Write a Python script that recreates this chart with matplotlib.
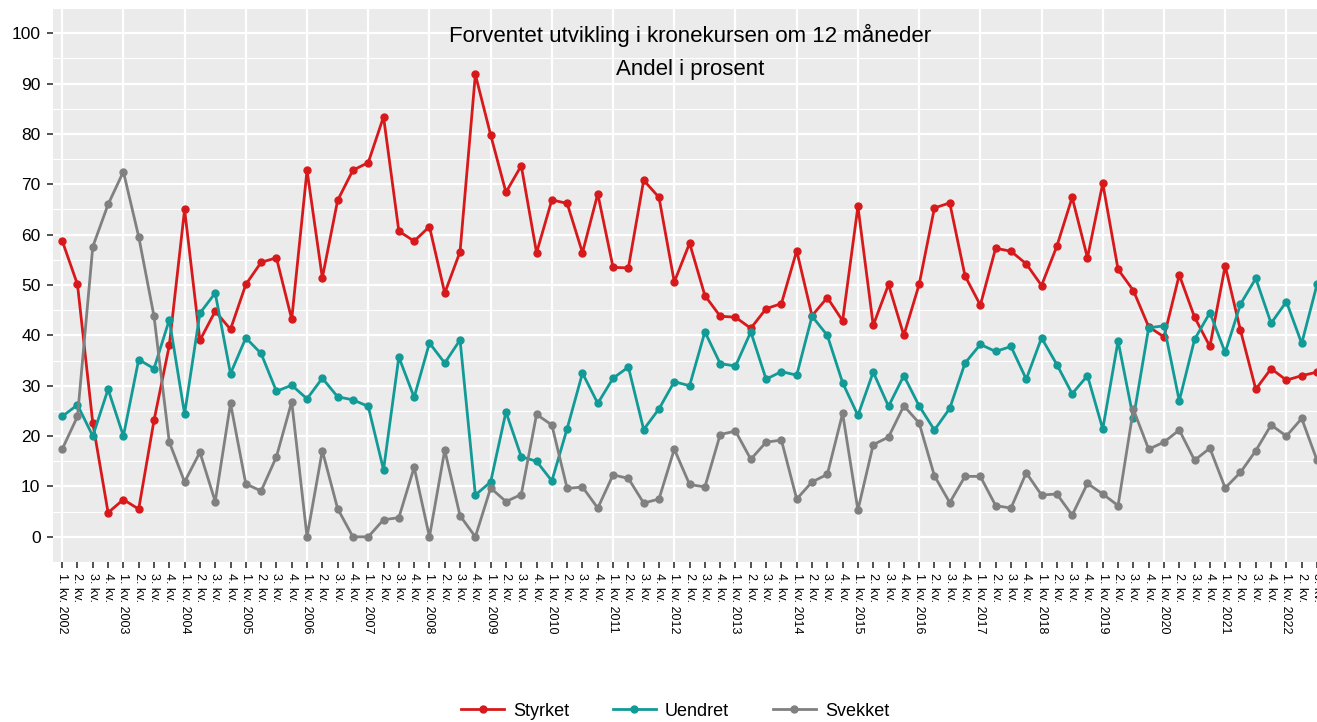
"""Forventet utvikling i kronekursen om 12 maneder, andel i prosent."""

import matplotlib

matplotlib.use("Agg")
import matplotlib.pyplot as plt
from matplotlib.ticker import MultipleLocator

START_YEAR = 2002

styrket = [
    58.8, 50.1, 22.6, 4.8, 7.4, 5.5, 23.1, 38.0, 65.0, 39.0, 44.8, 41.2,
    50.1, 54.5, 55.4, 43.2, 72.8, 51.4, 66.8, 72.8, 74.3, 83.4, 60.7, 58.7,
    61.6, 48.4, 56.6, 91.8, 79.8, 68.4, 73.7, 56.4, 66.9, 66.2, 56.4, 68.1,
    53.5, 53.4, 70.8, 67.4, 50.6, 58.3, 47.9, 43.8, 43.6, 41.4, 45.3, 46.3,
    56.8, 43.9, 47.5, 42.9, 65.6, 42.0, 50.1, 40.0, 50.1, 65.3, 66.3, 51.8,
    46.0, 57.3, 56.7, 54.2, 49.9, 57.7, 67.4, 55.4, 70.2, 53.1, 48.9, 41.7,
    39.7, 52.0, 43.6, 37.8, 53.8, 41.0, 29.3, 33.4, 31.1, 32.0, 32.7,
]
uendret = [
    23.9, 26.2, 20.0, 29.3, 20.0, 35.2, 33.4, 43.1, 24.4, 44.4, 48.4, 32.4,
    39.5, 36.4, 28.9, 30.1, 27.4, 31.5, 27.8, 27.2, 25.9, 13.3, 35.7, 27.7,
    38.5, 34.5, 39.1, 8.3, 10.9, 24.8, 15.9, 15.0, 11.1, 21.5, 32.5, 26.5,
    31.5, 33.7, 21.3, 25.4, 30.8, 30.0, 40.7, 34.4, 33.9, 40.7, 31.3, 32.8,
    32.1, 43.8, 40.0, 30.6, 24.1, 32.7, 25.9, 32.0, 26.0, 21.2, 25.5, 34.5,
    38.2, 36.8, 37.8, 31.3, 39.5, 34.2, 28.4, 32.0, 21.4, 38.9, 23.5, 41.5,
    41.9, 27.0, 39.2, 44.5, 36.6, 46.2, 51.3, 42.4, 46.7, 38.4, 50.1,
]
svekket = [
    17.4, 23.9, 57.6, 66.0, 72.5, 59.6, 43.8, 18.8, 10.9, 16.8, 7.0, 26.5,
    10.5, 9.1, 15.9, 26.8, 0.0, 17.1, 5.6, 0.0, 0.0, 3.4, 3.8, 13.8,
    0.0, 17.2, 4.2, 0.0, 9.7, 7.0, 8.4, 24.3, 22.2, 9.6, 9.9, 5.7,
    12.3, 11.6, 6.7, 7.5, 17.4, 10.4, 9.9, 20.3, 21.0, 15.4, 18.8, 19.2,
    7.5, 10.9, 12.4, 24.5, 5.3, 18.3, 19.8, 26.0, 22.6, 12.1, 6.8, 12.0,
    12.0, 6.2, 5.7, 12.7, 8.3, 8.5, 4.3, 10.6, 8.5, 6.2, 25.3, 17.4,
    18.8, 21.2, 15.2, 17.6, 9.7, 12.8, 17.1, 22.2, 20.0, 23.5, 15.2,
]

series = [
    ("Styrket", styrket, "#D7191C"),
    ("Uendret", uendret, "#119A96"),
    ("Svekket", svekket, "#808080"),
]


def quarter_labels(n):
    labels = []
    for i in range(n):
        q = i % 4 + 1
        if q == 1:
            labels.append(f"{q}. kv. {START_YEAR + i // 4}")
        else:
            labels.append(f"{q}. kv.")
    return labels


def main() -> None:
    plt.rcParams["font.family"] = ["Liberation Sans", "DejaVu Sans"]
    n = len(styrket)
    x = list(range(n))

    fig = plt.figure(figsize=(13.17, 7.22), dpi=100)
    ax = fig.add_axes([53 / 1317, 1 - 562 / 722, 1 - 53 / 1317, (562 - 8) / 722])
    ax.set_facecolor("#EBEBEB")
    for side in ax.spines.values():
        side.set_visible(False)

    ax.set_ylim(-5, 105)
    ax.set_xlim(-0.6, 81.96)
    ax.yaxis.set_major_locator(MultipleLocator(10))
    ax.yaxis.set_minor_locator(MultipleLocator(5))
    ax.set_xticks(x)
    ax.set_xticklabels(quarter_labels(n), rotation=-90, fontsize=9,
                       va="top", ha="center")

    ax.grid(axis="y", which="major", color="white", linewidth=1.6)
    ax.grid(axis="y", which="minor", color="white", linewidth=0.8)
    for i in x:
        if i % 4 == 0:
            ax.axvline(i, color="white", linewidth=1.6, zorder=0.5)
    ax.set_axisbelow(True)

    ax.tick_params(axis="y", which="major", length=4, width=1.2,
                   color="#333333", labelsize=12.5, labelcolor="black", pad=5)
    ax.tick_params(axis="y", which="minor", length=0)
    ax.tick_params(axis="x", length=4, width=1.2, color="#333333",
                   labelcolor="black", pad=4)

    for name, values, color in series:
        ax.plot(x, values, color=color, linewidth=2.0, marker="o",
                markersize=5, label=name, clip_on=False, zorder=3)

    fig.text(690 / 1317, 1 - 35 / 722, "Forventet utvikling i kronekursen om 12 måneder",
             ha="center", va="center", fontsize=16)
    fig.text(690 / 1317, 1 - 70 / 722, "Andel i prosent",
             ha="center", va="center", fontsize=16)

    fig.legend(loc="center", bbox_to_anchor=(675 / 1317, 1 - 711 / 722),
               ncol=3, frameon=False, fontsize=13, handlelength=2.4,
               columnspacing=2.4, handletextpad=0.5)

    fig.savefig("out.png", dpi=100)
    plt.close(fig)


if __name__ == "__main__":
    main()
